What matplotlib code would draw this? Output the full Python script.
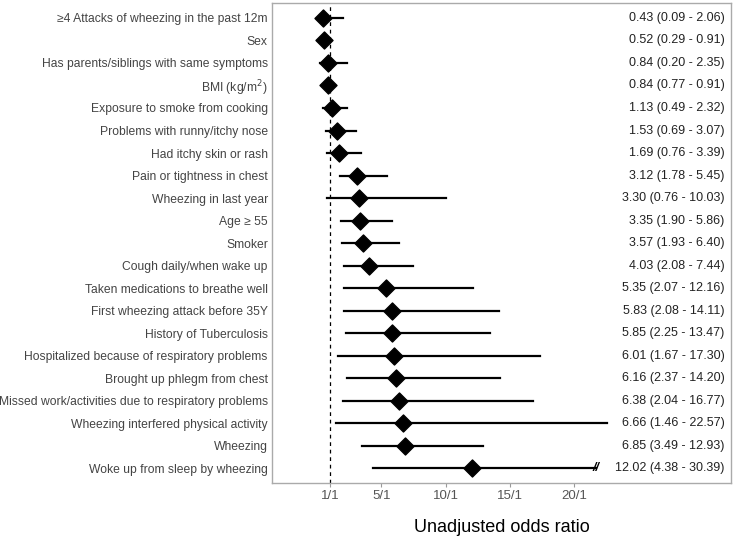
import numpy as np
import matplotlib
matplotlib.use("Agg")
import matplotlib.pyplot as plt

plt.rcParams['font.family'] = ['Liberation Sans', 'DejaVu Sans']

labels = [
    "≥4 Attacks of wheezing in the past 12m",
    "Sex",
    "Has parents/siblings with same symptoms",
    "BMI (kg/m$^2$)",
    "Exposure to smoke from cooking",
    "Problems with runny/itchy nose",
    "Had itchy skin or rash",
    "Pain or tightness in chest",
    "Wheezing in last year",
    "Age ≥ 55",
    "Smoker",
    "Cough daily/when wake up",
    "Taken medications to breathe well",
    "First wheezing attack before 35Y",
    "History of Tuberculosis",
    "Hospitalized because of respiratory problems",
    "Brought up phlegm from chest",
    "Missed work/activities due to respiratory problems",
    "Wheezing interfered physical activity",
    "Wheezing",
    "Woke up from sleep by wheezing",
]
odds = [0.43, 0.52, 0.84, 0.84, 1.13, 1.53, 1.69, 3.12, 3.30, 3.35, 3.57, 4.03,
        5.35, 5.83, 5.85, 6.01, 6.16, 6.38, 6.66, 6.85, 12.02]
lower = [0.09, 0.29, 0.20, 0.77, 0.49, 0.69, 0.76, 1.78, 0.76, 1.90, 1.93, 2.08,
         2.07, 2.08, 2.25, 1.67, 2.37, 2.04, 1.46, 3.49, 4.38]
upper = [2.06, 0.91, 2.35, 0.91, 2.32, 3.07, 3.39, 5.45, 10.03, 5.86, 6.40, 7.44,
         12.16, 14.11, 13.47, 17.30, 14.20, 16.77, 22.57, 12.93, 30.39]
xticks = [1, 5, 10, 15, 20]
xticklabels = ["1/1", "5/1", "10/1", "15/1", "20/1"]
clip_limit = 25     # CIs above this are cut short with a break mark
clip_at = 21.7

fig = plt.figure(figsize=(7.35, 5.38), dpi=100)
ax = fig.add_axes([0.370, 0.102, 0.625, 0.892])

n = len(labels)
y = np.arange(n)
gray = "#555555"

for i in range(n):
    hi = clip_at if upper[i] > clip_limit else upper[i]
    ax.plot([lower[i], hi], [y[i], y[i]], color="black", lw=1.6, zorder=2)
    if upper[i] > clip_limit:
        ax.text(hi, y[i], "//", ha="center", va="center", fontsize=9,
                fontweight="bold", style="italic", zorder=3)
ax.scatter(odds, y, marker="D", s=75, color="black", zorder=4)

for i in range(n):
    ax.text(0.985, y[i], f"{odds[i]:.2f} ({lower[i]:.2f} - {upper[i]:.2f})",
            transform=ax.get_yaxis_transform(), ha="right", va="center",
            fontsize=9, color="#222222")

ax.axvline(1, color="black", lw=0.9, ls=(0, (3, 3)), zorder=1)

ax.set_xlim(-3.5, 32.2)
ax.set_ylim(n - 0.35, -0.65)
ax.set_yticks(y)
ax.set_yticklabels(labels, fontsize=8.75, color="#444444")
ax.tick_params(axis="y", length=0, pad=3)
ax.set_xticks(xticks)
ax.set_xticklabels(xticklabels, fontsize=9.5, color=gray)
ax.tick_params(axis="x", length=3, color="#999999", pad=2)
for s in ax.spines.values():
    s.set_color("#aaaaaa")
    s.set_linewidth(1.0)

ax.set_xlabel("Unadjusted odds ratio", fontsize=13, labelpad=12)

fig.savefig("out.png", dpi=100)
